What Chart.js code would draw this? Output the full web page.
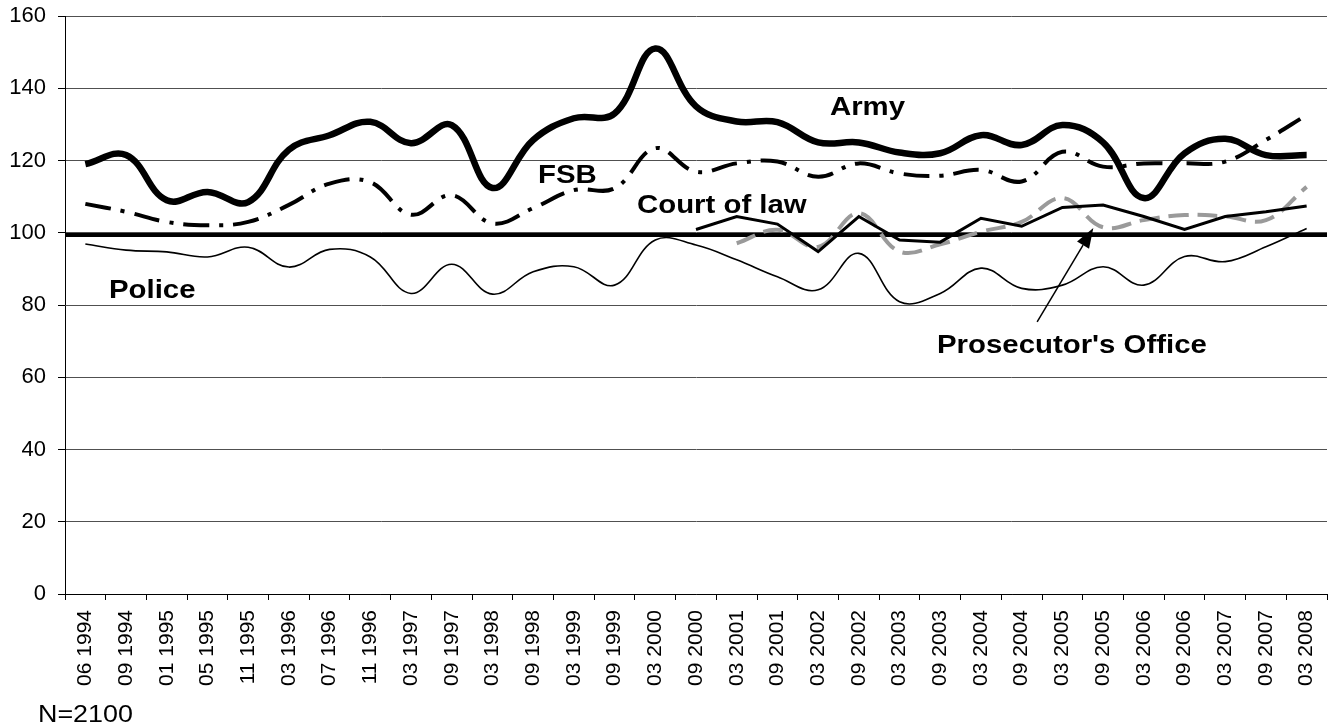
<!DOCTYPE html>
<html>
<head>
<meta charset="utf-8">
<title>Trust in institutions, 1994-2008</title>
<script src="https://cdn.jsdelivr.net/npm/chart.js@4.4.1/dist/chart.umd.min.js"></script>
<style>
  html, body { margin: 0; padding: 0; background: #fff; }
</style>
</head>
<body>
<canvas id="trust-chart" width="1330" height="727"></canvas>
<script>
// Survey waves (x axis)
const labels = ['06 1994', '09 1994', '01 1995', '05 1995', '11 1995', '03 1996', '07 1996', '11 1996',
    '03 1997', '09 1997', '03 1998', '09 1998', '03 1999', '09 1999', '03 2000', '09 2000', '03 2001',
    '09 2001', '03 2002', '09 2002', '03 2003', '09 2003', '03 2004', '09 2004', '03 2005', '09 2005',
    '03 2006', '09 2006', '03 2007', '09 2007', '03 2008'];

// Index values
const army = [119.0, 121.5, 109.0, 111.3, 108.5, 123.0, 127.0, 130.7, 124.8, 129.8, 112.4, 125.7, 131.7,
    133.0, 151.0, 135.0, 130.8, 130.6, 125.0, 125.0, 122.2, 122.0, 127.0, 124.3, 129.8, 125.0, 109.6,
    122.0, 126.0, 121.5, 121.5];
const fsb = [108.0, 105.8, 103.0, 102.1, 103.0, 107.7, 113.6, 114.0, 105.0, 110.4, 102.6, 106.8, 111.8,
    112.3, 123.4, 116.9, 119.2, 119.7, 115.5, 119.2, 116.4, 115.8, 117.4, 114.2, 122.4, 118.3, 119.2,
    119.2, 119.7, 125.7, 132.6];
const police = [96.9, 95.2, 94.7, 93.3, 96.0, 90.5, 95.4, 93.3, 83.2, 91.3, 83.0, 89.2, 90.6, 85.5, 98.0,
    96.6, 92.5, 87.8, 84.2, 94.3, 80.9, 83.2, 90.2, 84.6, 85.5, 90.6, 85.5, 93.4, 92.0, 96.1, 101.2];
const courtOfLaw = [null, null, null, null, null, null, null, null, null, null, null, null, null, null, null,
    100.9, 104.5, 102.4, 94.8, 104.5, 98.0, 97.4, 104.0, 101.8, 107.0, 107.7, 104.5, 100.9, 104.5, 105.8, 107.4];
const prosecutor = [null, null, null, null, null, null, null, null, null, null, null, null, null, null, null, null,
    97.1, 100.8, 96.1, 105.4, 94.8, 96.8, 100.3, 103.0, 109.6, 101.5, 103.5, 104.9, 104.5, 103.5, 112.7];

// Thick horizontal reference level
const referenceLevel = 99.4;
const yTicks = { min: 0, max: 160, step: 20 };

// Series captions, placed in axis units (category index, value)
const captions = [
    { text: 'Army', x: 18.29, y: 132.6 },
    { text: 'FSB', x: 11.12, y: 113.8 },
    { text: 'Court of law', x: 13.55, y: 105.5 },
    { text: 'Police', x: 0.58, y: 81.9 },
    { text: "Prosecutor's Office", x: 20.92, y: 66.7 }
];
const arrow = { from: [23.38, 75.3], to: [24.76, 101.3] };

// Draw the reference line, captions, arrow and sample size
const annotationPlugin = {
    id: 'annotations',
    beforeDatasetsDraw(chart) {
        const { ctx, chartArea, scales } = chart;
        const yPos = scales.y.getPixelForValue(referenceLevel);
        ctx.save();
        ctx.strokeStyle = '#000';
        ctx.lineWidth = 4;
        ctx.beginPath();
        ctx.moveTo(chartArea.left, yPos);
        ctx.lineTo(chartArea.right, yPos);
        ctx.stroke();
        ctx.restore();
    },
    afterDatasetsDraw(chart) {
        const { ctx, scales } = chart;
        const px = v => scales.x.getPixelForValue(v);
        const py = v => scales.y.getPixelForValue(v);

        ctx.save();
        ctx.fillStyle = '#000';
        ctx.font = 'bold 26px "Liberation Sans", Arial, sans-serif';
        ctx.textBaseline = 'alphabetic';
        captions.forEach(c => {
            ctx.save();
            ctx.translate(px(c.x), py(c.y));
            ctx.scale(1.13, 1);
            ctx.fillText(c.text, 0, 0);
            ctx.restore();
        });

        // arrow pointing at the prosecutor's line
        const x1 = px(arrow.from[0]), y1 = py(arrow.from[1]);
        const x2 = px(arrow.to[0]), y2 = py(arrow.to[1]);
        const ang = Math.atan2(y2 - y1, x2 - x1);
        const headLen = 20, headW = 7;
        const bx = x2 - headLen * Math.cos(ang), by = y2 - headLen * Math.sin(ang);
        ctx.strokeStyle = '#000';
        ctx.lineWidth = 1.5;
        ctx.beginPath();
        ctx.moveTo(x1, y1);
        ctx.lineTo(bx, by);
        ctx.stroke();
        ctx.beginPath();
        ctx.moveTo(x2, y2);
        ctx.lineTo(bx + headW * Math.sin(ang), by - headW * Math.cos(ang));
        ctx.lineTo(bx - headW * Math.sin(ang), by + headW * Math.cos(ang));
        ctx.closePath();
        ctx.fill();

        // sample size note under the axis
        ctx.font = '24px "Liberation Sans", Arial, sans-serif';
        ctx.translate(38, 722);
        ctx.scale(1.12, 1);
        ctx.fillText('N=2100', 0, 0);
        ctx.restore();
    }
};

function lineSeries(label, data, style) {
    return Object.assign({
        label: label,
        data: data,
        borderColor: '#000',
        backgroundColor: '#000',
        pointRadius: 0,
        fill: false,
        tension: 0.4,
        spanGaps: false
    }, style);
}

window.onload = function() {
    const ctx = document.getElementById('trust-chart').getContext('2d');
    new Chart(ctx, {
        type: 'line',
        data: {
            labels: labels,
            datasets: [
                lineSeries('Army', army, { borderWidth: 6.5 }),
                lineSeries('FSB', fsb, { borderWidth: 4, borderDash: [26, 10, 4, 10] }),
                lineSeries('Court of law', courtOfLaw, { borderWidth: 3, tension: 0 }),
                lineSeries('Police', police, { borderWidth: 1.6 }),
                lineSeries("Prosecutor's Office", prosecutor, {
                    borderWidth: 4, borderColor: '#9a9a9a', borderDash: [20, 9]
                })
            ]
        },
        options: {
            responsive: false,
            animation: false,
            layout: { padding: { top: 16, right: 3, left: 0, bottom: 0 } },
            plugins: {
                legend: { display: false },
                tooltip: { enabled: false }
            },
            scales: {
                x: {
                    offset: true,
                    afterFit: scale => {
                        scale.height = 133;
                        scale.paddingLeft = 0;
                        scale.paddingRight = 0;
                    },
                    grid: { offset: true, drawOnChartArea: false, tickLength: 6, color: '#000' },
                    border: { color: '#000', width: 1 },
                    ticks: {
                        autoSkip: false, minRotation: 90, maxRotation: 90, padding: 10,
                        color: '#000', font: { family: '"Liberation Sans", Arial, sans-serif', size: 21 }
                    }
                },
                y: {
                    min: yTicks.min,
                    max: yTicks.max,
                    afterFit: scale => {
                        scale.width = 65;
                        scale.paddingTop = 0;
                        scale.paddingBottom = 0;
                    },
                    grid: { color: '#505050', lineWidth: 1, tickLength: 7, tickColor: '#000' },
                    border: { color: '#000', width: 1 },
                    ticks: {
                        stepSize: yTicks.step, padding: 12, color: '#000',
                        font: { family: '"Liberation Sans", Arial, sans-serif', size: 22 }
                    }
                }
            }
        },
        plugins: [annotationPlugin]
    });
};
</script>
</body>
</html>
